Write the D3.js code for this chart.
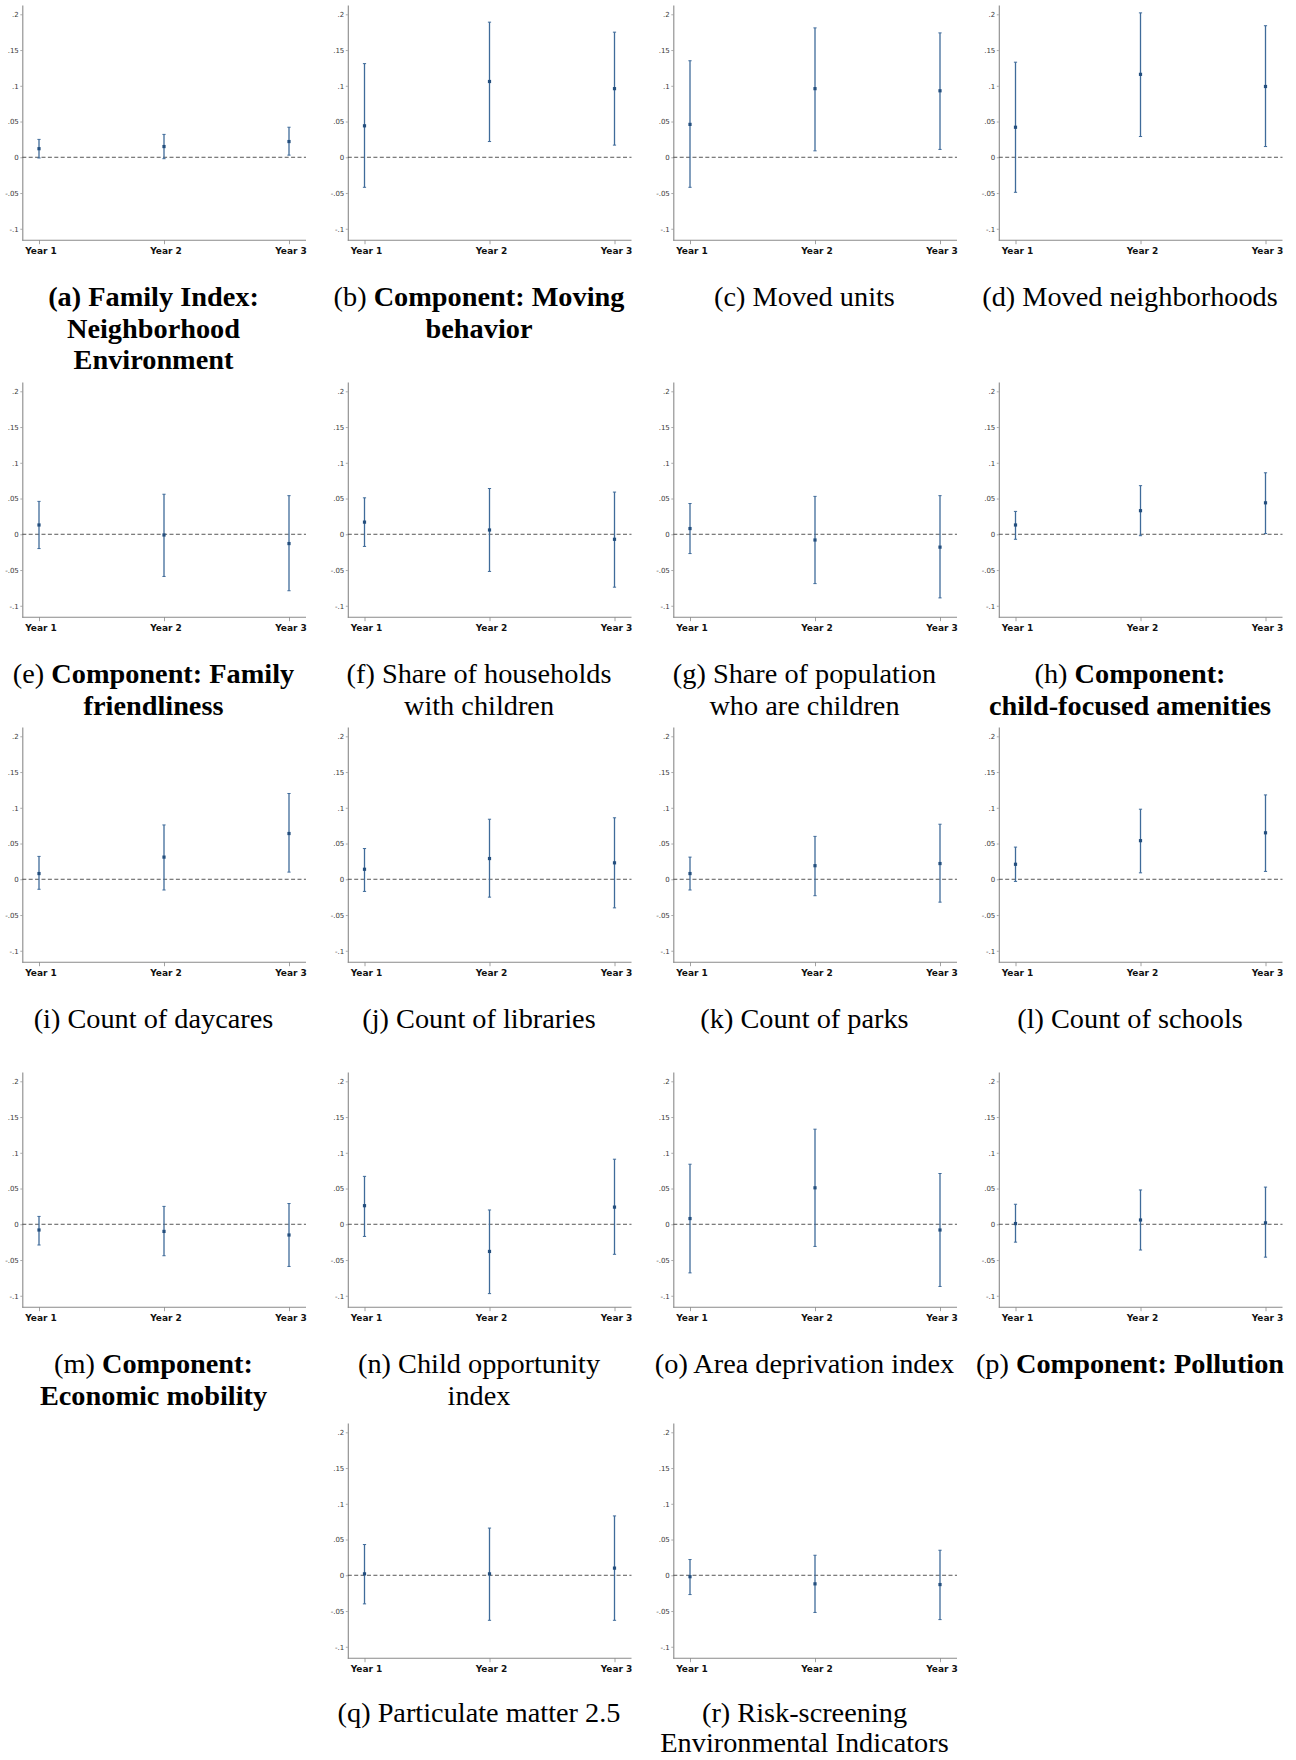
<!DOCTYPE html>
<html>
<head>
<meta charset="utf-8">
<script src="https://cdn.jsdelivr.net/npm/d3@7"></script>
<style>
  html, body { margin: 0; padding: 0; background: #fff; }
  svg { display: block; }
</style>
</head>
<body>
<div id="chart"></div>
<script>
// ---------------- DATA ----------------
const years = ["Year 1", "Year 2", "Year 3"];
const yTickValues = [-0.1, -0.05, 0, 0.05, 0.1, 0.15, 0.2];
const yTickLabels = ["-.1", "-.05", "0", ".05", ".1", ".15", ".2"];

const panelIds = ["a","b","c","d","e","f","g","h","i","j","k","l","m","n","o","p","q","r"];

// point estimates (Year 1, Year 2, Year 3)
const estA = [0.012, 0.015, 0.022];
const estB = [0.044, 0.106, 0.096];
const estC = [0.046, 0.096, 0.093];
const estD = [0.042, 0.116, 0.099];
const estE = [0.013, -0.001, -0.013];
const estF = [0.017, 0.006, -0.007];
const estG = [0.008, -0.008, -0.018];
const estH = [0.013, 0.033, 0.044];
const estI = [0.008, 0.031, 0.064];
const estJ = [0.014, 0.029, 0.023];
const estK = [0.008, 0.019, 0.022];
const estL = [0.021, 0.054, 0.065];
const estM = [-0.008, -0.010, -0.015];
const estN = [0.026, -0.038, 0.024];
const estO = [0.008, 0.051, -0.008];
const estP = [0.001, 0.006, 0.002];
const estQ = [0.002, 0.002, 0.010];
const estR = [-0.002, -0.012, -0.013];

// lower CI bounds
const lowA = [-0.001, -0.002, 0.003];
const lowB = [-0.042, 0.022, 0.017];
const lowC = [-0.042, 0.009, 0.011];
const lowD = [-0.049, 0.029, 0.015];
const lowE = [-0.020, -0.059, -0.079];
const lowF = [-0.017, -0.052, -0.074];
const lowG = [-0.027, -0.069, -0.089];
const lowH = [-0.007, -0.002, 0.001];
const lowI = [-0.014, -0.015, 0.010];
const lowJ = [-0.017, -0.025, -0.040];
const lowK = [-0.015, -0.023, -0.032];
const lowL = [-0.003, 0.009, 0.011];
const lowM = [-0.029, -0.044, -0.059];
const lowN = [-0.017, -0.097, -0.042];
const lowO = [-0.068, -0.031, -0.087];
const lowP = [-0.025, -0.036, -0.046];
const lowQ = [-0.040, -0.063, -0.063];
const lowR = [-0.027, -0.052, -0.062];

// upper CI bounds
const upA = [0.025, 0.032, 0.042];
const upB = [0.131, 0.189, 0.175];
const upC = [0.135, 0.181, 0.174];
const upD = [0.133, 0.202, 0.184];
const upE = [0.046, 0.056, 0.054];
const upF = [0.051, 0.064, 0.059];
const upG = [0.043, 0.053, 0.054];
const upH = [0.032, 0.068, 0.086];
const upI = [0.032, 0.076, 0.120];
const upJ = [0.043, 0.084, 0.086];
const upK = [0.031, 0.060, 0.077];
const upL = [0.045, 0.098, 0.118];
const upM = [0.011, 0.025, 0.029];
const upN = [0.067, 0.020, 0.091];
const upO = [0.084, 0.133, 0.071];
const upP = [0.028, 0.048, 0.052];
const upQ = [0.043, 0.066, 0.083];
const upR = [0.022, 0.028, 0.035];

// captions: lines of [text, bold] segments
const captions = [
  [[["(a) Family Index:", true]], [["Neighborhood", true]], [["Environment", true]]],
  [[["(b) ", false], ["Component: Moving", true]], [["behavior", true]]],
  [[["(c) Moved units", false]]],
  [[["(d) Moved neighborhoods", false]]],
  [[["(e) ", false], ["Component: Family", true]], [["friendliness", true]]],
  [[["(f) Share of households", false]], [["with children", false]]],
  [[["(g) Share of population", false]], [["who are children", false]]],
  [[["(h) ", false], ["Component:", true]], [["child-focused amenities", true]]],
  [[["(i) Count of daycares", false]]],
  [[["(j) Count of libraries", false]]],
  [[["(k) Count of parks", false]]],
  [[["(l) Count of schools", false]]],
  [[["(m) ", false], ["Component:", true]], [["Economic mobility", true]]],
  [[["(n) Child opportunity", false]], [["index", false]]],
  [[["(o) Area deprivation index", false]]],
  [[["(p) ", false], ["Component: Pollution", true]]],
  [[["(q) Particulate matter 2.5", false]]],
  [[["(r) Risk-screening", false]], [["Environmental Indicators", false]]]
];

const estimates = [estA,estB,estC,estD,estE,estF,estG,estH,estI,estJ,estK,estL,estM,estN,estO,estP,estQ,estR];
const lowers = [lowA,lowB,lowC,lowD,lowE,lowF,lowG,lowH,lowI,lowJ,lowK,lowL,lowM,lowN,lowO,lowP,lowQ,lowR];
const uppers = [upA,upB,upC,upD,upE,upF,upG,upH,upI,upJ,upK,upL,upM,upN,upO,upP,upQ,upR];

// ---------------- LAYOUT ----------------
const W = 1296, H = 1760;
const colAxisX = [22.3, 347.8, 673.3, 998.8];
const rowTop = [5, 382, 727, 1072, 1423];
const rowCapShift = [0, 0, 0, 0, -2.5];
// grid positions of each panel [row, col]
const gridPos = [[0,0],[0,1],[0,2],[0,3],[1,0],[1,1],[1,2],[1,3],[2,0],[2,1],[2,2],[2,3],[3,0],[3,1],[3,2],[3,3],[4,1],[4,2]];

const plotW = 283.7;   // width of x-axis line
const plotH = 235.2;   // height of y-axis line
const yDomain = [-0.116, 0.213];

const barColor = "#3f6b9a";
const ptColor = "#244f7e";
const axisColor = "#8a8a8a";

const svg = d3.select("#chart").append("svg")
  .attr("width", W).attr("height", H)
  .style("background", "#fff");

panelIds.forEach((id, i) => {
  const [r, c] = gridPos[i];
  const g = svg.append("g").attr("transform", `translate(${colAxisX[c]},${rowTop[r]})`);

  const x = d3.scalePoint().domain(years).range([16.7, 266.7]);
  const y = d3.scaleLinear().domain(yDomain).range([plotH, 0]);

  // y axis
  const yAxis = d3.axisLeft(y)
    .tickValues(yTickValues)
    .tickFormat((d, k) => yTickLabels[k])
    .tickSize(2).tickSizeOuter(0).tickPadding(1.5);
  const ya = g.append("g").call(yAxis);
  ya.select(".domain").attr("stroke", axisColor).attr("stroke-width", 1.1);
  ya.selectAll(".tick line").attr("stroke", axisColor).attr("stroke-width", 0.7);
  ya.selectAll(".tick text")
    .attr("fill", "#3a3a3a")
    .style("font-family", "DejaVu Sans, sans-serif")
    .style("font-size", "7px");

  // x axis
  const xAxis = d3.axisBottom(x).tickSize(4).tickSizeOuter(0).tickPadding(3);
  const xa = g.append("g").attr("transform", `translate(0,${plotH})`).call(xAxis);
  xa.select(".domain").remove();
  xa.append("line").attr("x1", 0).attr("x2", plotW).attr("y1", 0).attr("y2", 0)
    .attr("stroke", axisColor).attr("stroke-width", 1.1);
  xa.selectAll(".tick line").attr("stroke", axisColor).attr("stroke-width", 0.8);
  xa.selectAll(".tick text")
    .attr("fill", "#111")
    .attr("dx", 1.5)
    .style("font-family", "DejaVu Sans, sans-serif")
    .style("font-weight", "bold")
    .style("font-size", "9px");

  // zero reference line
  g.append("line")
    .attr("x1", 0).attr("x2", plotW)
    .attr("y1", y(0)).attr("y2", y(0))
    .attr("stroke", "#444").attr("stroke-width", 0.9)
    .attr("stroke-dasharray", "4,2.4");

  // error bars
  const rows = years.map((yr, k) => ({yr, est: estimates[i][k], lo: lowers[i][k], hi: uppers[i][k]}));
  const eb = g.append("g");
  eb.selectAll("line.ci").data(rows).join("line")
    .attr("class", "ci")
    .attr("x1", d => x(d.yr)).attr("x2", d => x(d.yr))
    .attr("y1", d => y(d.lo)).attr("y2", d => y(d.hi))
    .attr("stroke", barColor).attr("stroke-width", 1.3);
  eb.selectAll("line.capT").data(rows).join("line")
    .attr("class", "capT")
    .attr("x1", d => x(d.yr) - 1.6).attr("x2", d => x(d.yr) + 1.6)
    .attr("y1", d => y(d.hi)).attr("y2", d => y(d.hi))
    .attr("stroke", barColor).attr("stroke-width", 1);
  eb.selectAll("line.capB").data(rows).join("line")
    .attr("class", "capB")
    .attr("x1", d => x(d.yr) - 1.6).attr("x2", d => x(d.yr) + 1.6)
    .attr("y1", d => y(d.lo)).attr("y2", d => y(d.lo))
    .attr("stroke", barColor).attr("stroke-width", 1);
  eb.selectAll("rect.pt").data(rows).join("rect")
    .attr("class", "pt")
    .attr("x", d => x(d.yr) - 1.6).attr("y", d => y(d.est) - 1.6)
    .attr("width", 3.2).attr("height", 3.2)
    .attr("fill", ptColor);

  // caption
  const capX = colAxisX[c] - 22.3 + 153.5;
  const capBase = rowTop[r] + plotH + 66 + rowCapShift[r];
  const lineGap = r === 4 ? 30.5 : 31.5;
  const t = svg.append("text")
    .attr("text-anchor", "middle")
    .style("font-family", "Liberation Serif, 'Times New Roman', serif")
    .style("font-size", "28.3px")
    .attr("fill", "#000");
  captions[i].forEach((line, li) => {
    line.forEach((seg, si) => {
      const ts = t.append("tspan").text(seg[0])
        .style("font-weight", seg[1] ? "bold" : "normal");
      if (si === 0) ts.attr("x", capX).attr("y", capBase + li * lineGap);
    });
  });
});
</script>
</body>
</html>
